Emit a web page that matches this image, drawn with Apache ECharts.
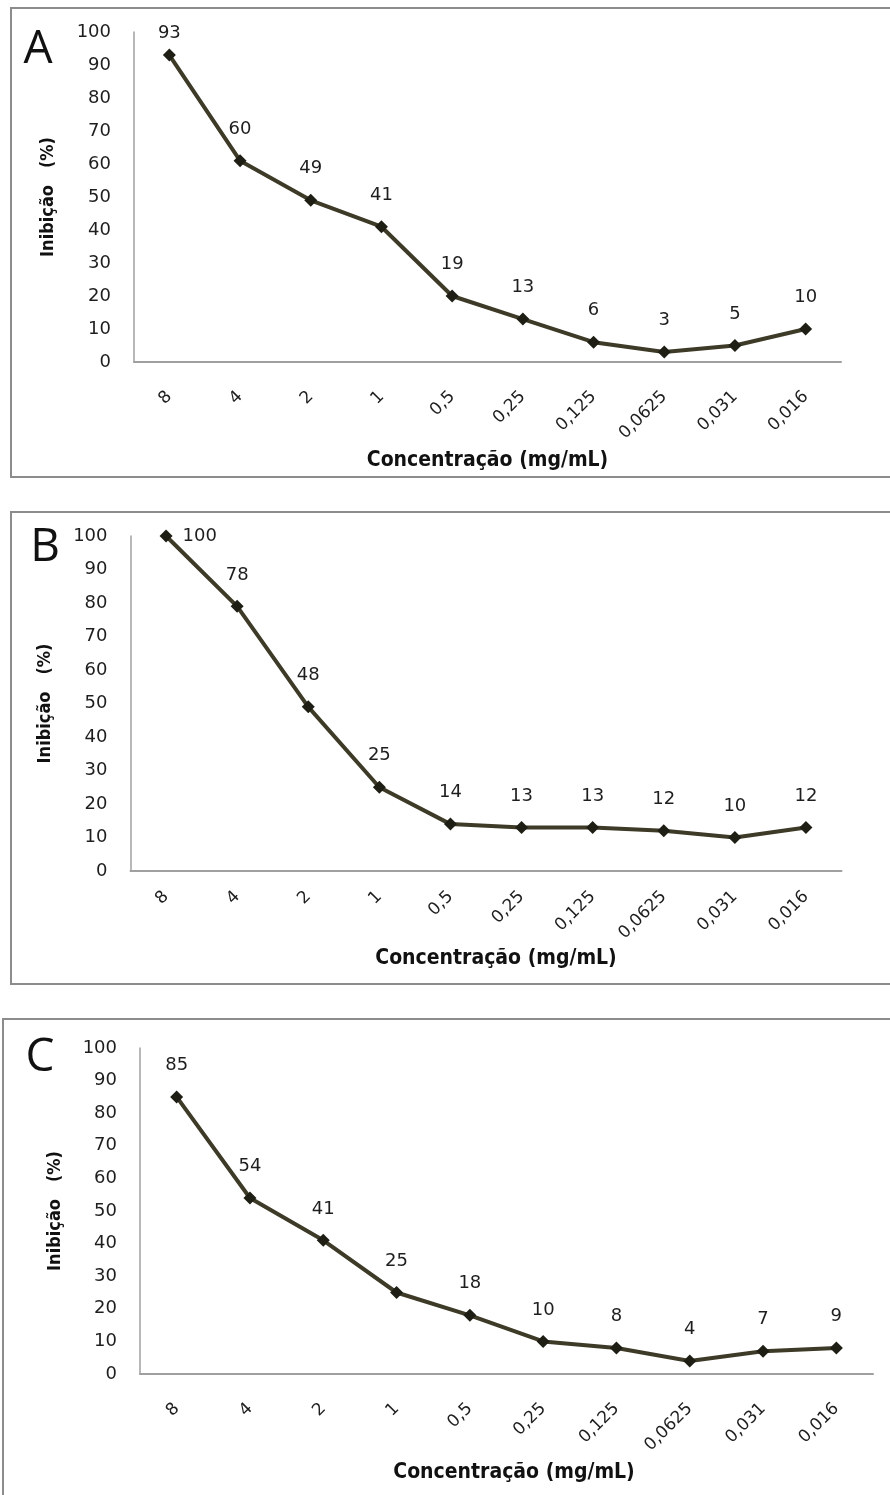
<!DOCTYPE html>
<html><head><meta charset="utf-8">
<script src="https://cdn.jsdelivr.net/npm/echarts@6/dist/echarts.min.js"></script>
<style>html,body{margin:0;padding:0;background:#fff}#c{width:890px;height:1495px}</style>
</head><body><div id="c"></div>
<script>
const categories = ['8','4','2','1','0,5','0,25','0,125','0,0625','0,031','0,016'];
const valuesA = [93, 61, 49, 41, 20, 13, 6, 3, 5, 10];
const labelsA = [93, 60, 49, 41, 19, 13, 6, 3, 5, 10];
const valuesB = [100, 79, 49, 25, 14, 13, 13, 12, 10, 13];
const labelsB = [100, 78, 48, 25, 14, 13, 13, 12, 10, 12];
const valuesC = [85, 54, 41, 25, 18, 10, 8, 4, 7, 8];
const labelsC = [85, 54, 41, 25, 18, 10, 8, 4, 7, 9];
const yTicks = [0, 10, 20, 30, 40, 50, 60, 70, 80, 90, 100];
const panelLetters = ['A', 'B', 'C'];
const xTitle = 'Concentração (mg/mL)';
const yTitle = 'Inibição   (%)';

const panels = [
  {vals: valuesA, labs: labelsA, grid: {left: 134, top: 32, width: 707, height: 330}, xPad: 0, xGap: 88, xMargin: 32, yGap: 77, box: {x: 11, y: 8, w: 900, h: 469}, letter: [38, 50], special: {0: {distance: 6}}},
  {vals: valuesB, labs: labelsB, grid: {left: 130.5, top: 536, width: 711, height: 335}, xPad: 20, xGap: 77, xMargin: 23, yGap: 76, box: {x: 11, y: 512, w: 900, h: 472}, letter: [45, 548], special: {0: {position: 'right', distance: 10}}},
  {vals: valuesC, labs: labelsC, grid: {left: 140, top: 1048, width: 733, height: 326}, xPad: 15, xGap: 88, xMargin: 32, yGap: 76, box: {x: 3, y: 1019, w: 900, h: 500}, letter: [40, 1058], special: {}}
];

const numFont = 'DejaVu Sans';
const txt = '#1e1e1e';
const option = {
  animation: false,
  backgroundColor: '#fff',
  grid: [], xAxis: [], yAxis: [], series: [], graphic: []
};
panels.forEach((p, i) => {
  option.grid.push(Object.assign({containLabel: false}, p.grid));
  option.xAxis.push({
    type: 'category', gridIndex: i, data: categories, boundaryGap: true,
    axisLine: {lineStyle: {color: '#a0a0a0', width: 2}},
    axisTick: {show: false},
    axisLabel: {rotate: 45, margin: p.xMargin, fontFamily: numFont, fontSize: 17, color: txt},
    name: xTitle, nameLocation: 'middle', nameGap: p.xGap,
    nameTextStyle: {fontFamily: 'DejaVu Sans Condensed', fontWeight: 'bold', fontSize: 21, color: '#111', padding: [0, 0, 0, p.xPad]}
  });
  option.yAxis.push({
    type: 'value', gridIndex: i, min: yTicks[0], max: yTicks[yTicks.length - 1], interval: 10,
    splitLine: {show: false},
    axisLine: {show: true, lineStyle: {color: '#a0a0a0', width: 1.5}},
    axisTick: {show: false},
    axisLabel: {margin: 23, fontFamily: numFont, fontSize: 18, color: txt},
    name: yTitle, nameLocation: 'middle', nameGap: p.yGap, nameRotate: 90,
    nameTextStyle: {fontFamily: 'DejaVu Sans Condensed', fontWeight: 'bold', fontSize: 18, color: '#111'}
  });
  option.series.push({
    type: 'line', xAxisIndex: i, yAxisIndex: i,
    data: p.vals.map((v, k) => {
      const item = {value: v, label: {formatter: String(p.labs[k])}};
      if (p.special[k]) Object.assign(item.label, p.special[k]);
      return item;
    }),
    symbol: 'diamond', symbolSize: 13,
    lineStyle: {color: '#3d3a27', width: 4},
    itemStyle: {color: '#1f1e14'},
    label: {show: true, position: 'top', distance: 16, fontFamily: numFont, fontSize: 18, color: txt}
  });
  option.graphic.push({
    type: 'rect', shape: {x: p.box.x, y: p.box.y, width: p.box.w, height: p.box.h},
    style: {fill: 'none', stroke: '#8c8c8c', lineWidth: 2}, z: -1
  });
  option.graphic.push({
    type: 'text', x: p.letter[0], y: p.letter[1],
    style: {text: panelLetters[i], fontFamily: 'Open Sans', fontSize: 46, fill: '#111', align: 'center', verticalAlign: 'middle'}
  });
});
const chart = echarts.init(document.getElementById('c'), null, {renderer: 'canvas'});
chart.setOption(option);
</script></body></html>
